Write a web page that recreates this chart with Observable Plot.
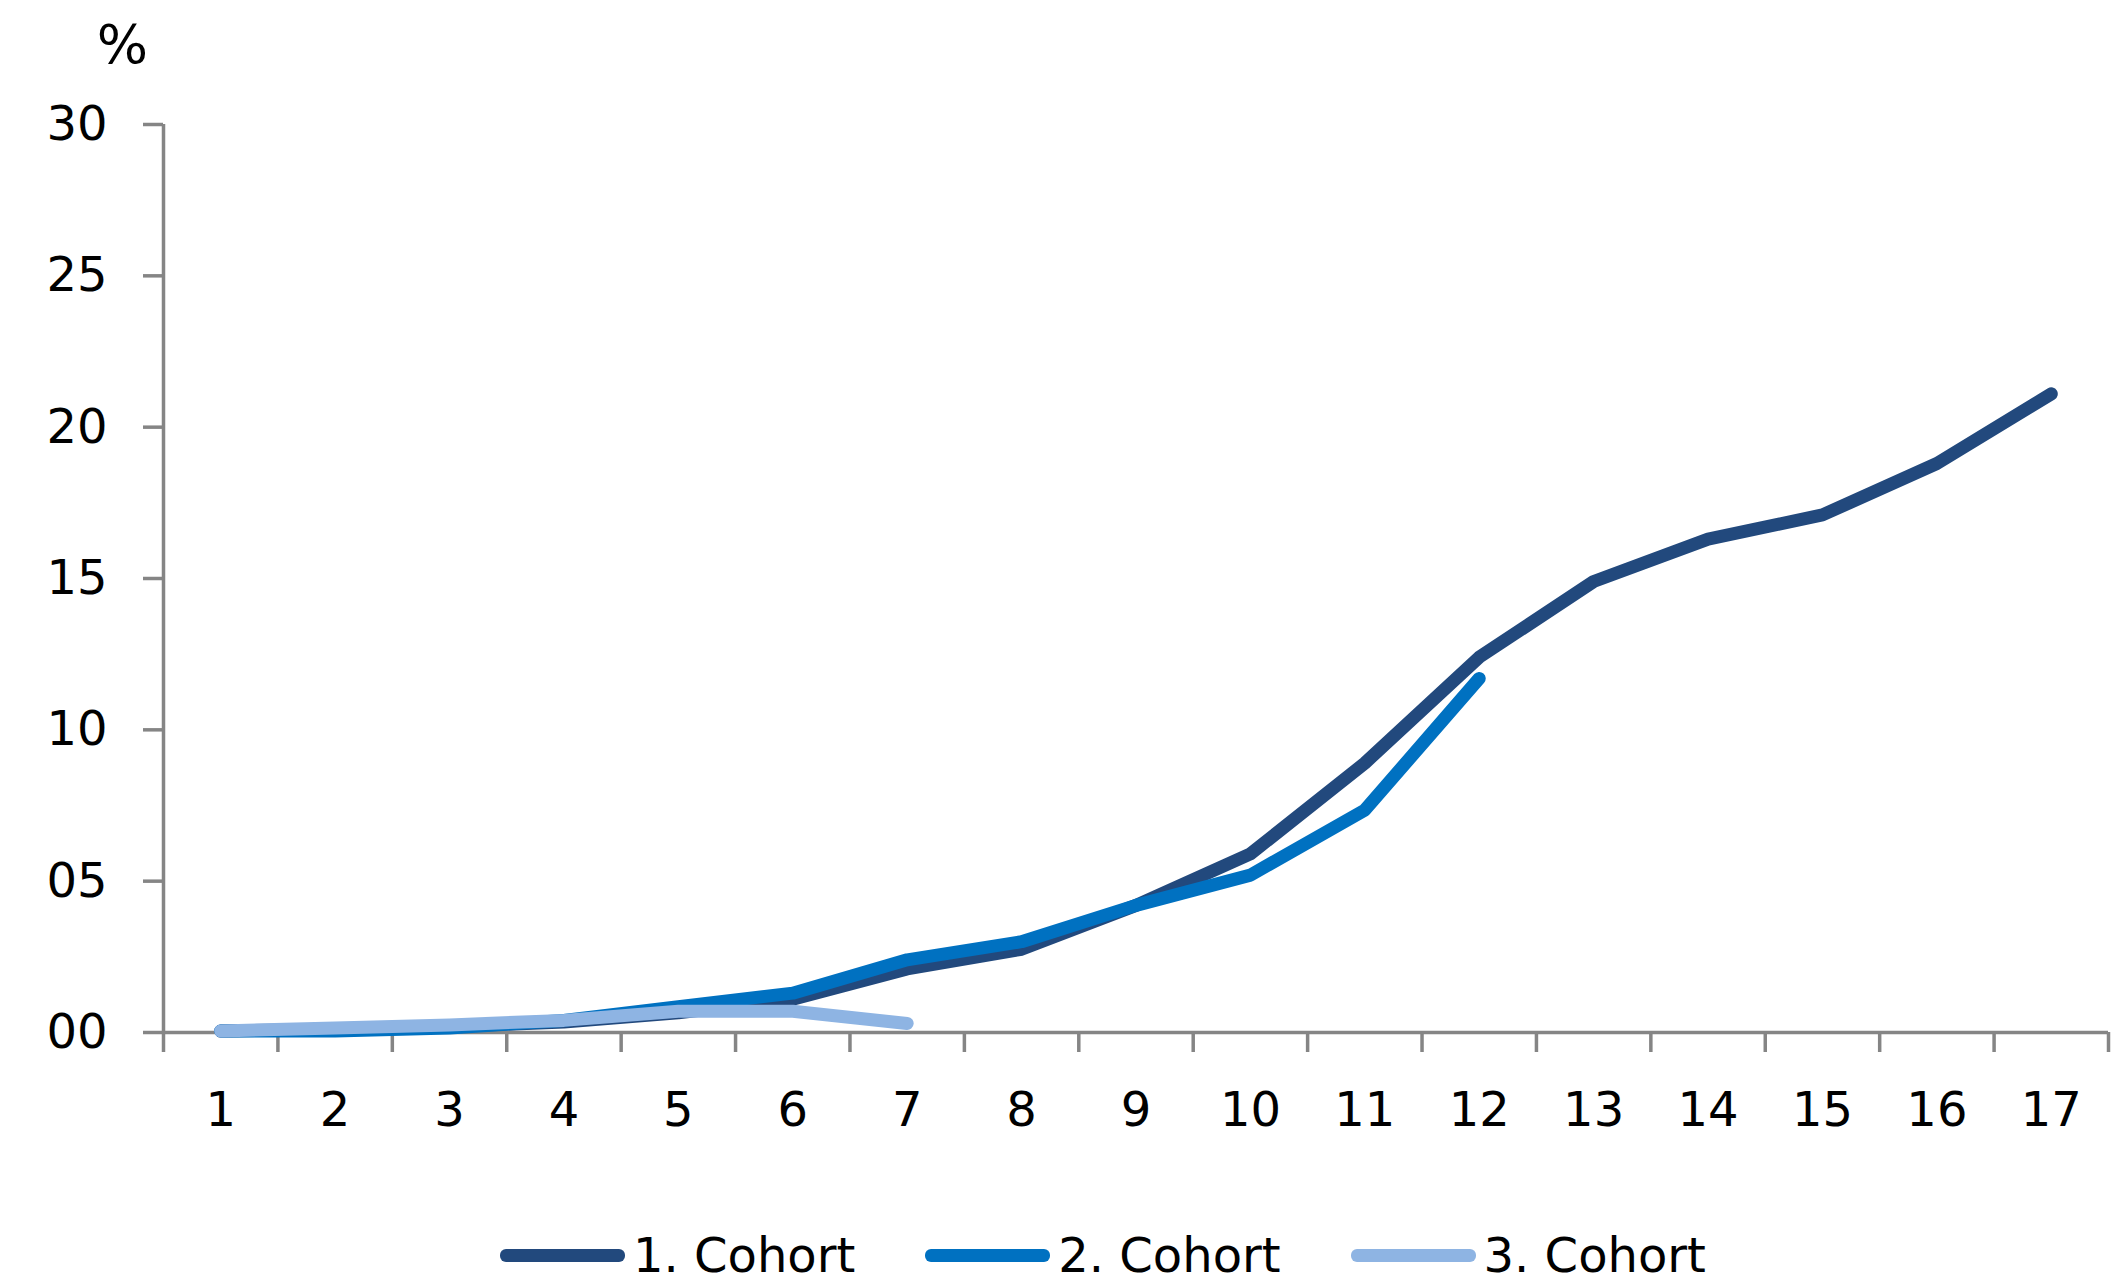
<!DOCTYPE html>
<html>
<head>
<meta charset="utf-8">
<script src="https://cdn.jsdelivr.net/npm/d3@7"></script>
<script src="https://cdn.jsdelivr.net/npm/@observablehq/plot@0.6"></script>
<style>
  html, body { margin: 0; padding: 0; background: #fff; }
  #wrap { position: relative; width: 2115px; height: 1283px; overflow: hidden; font-family: "DejaVu Sans", Verdana, sans-serif; }
  #legend { position: absolute; left: 500px; top: 1230px; height: 50px; display: flex; align-items: center; font-size: 48px; color: #000; white-space: nowrap; }
  .item { display: flex; align-items: center; }
  .sw { width: 125px; height: 13px; border-radius: 6px; margin-right: 8px; }
</style>
</head>
<body>
<div id="wrap"><div id="chart"></div><div id="legend"></div></div>
<script>
const periods = [1,2,3,4,5,6,7,8,9,10,11,12,13,14,15,16,17];
const seriesNames = ["1. Cohort", "2. Cohort", "3. Cohort"];
const seriesColors = ["#22497D", "#0071C1", "#8EB4E3"];
const cohort1 = [0.05, 0.1, 0.2, 0.35, 0.65, 1.1, 2.1, 2.75, 4.2, 5.9, 8.9, 12.4, 14.9, 16.3, 17.1, 18.8, 21.1];
const cohort2 = [0.05, 0.05, 0.15, 0.4, 0.85, 1.3, 2.4, 3.0, 4.2, 5.2, 7.35, 11.7];
const cohort3 = [0.05, 0.15, 0.25, 0.4, 0.7, 0.7, 0.3];
const yTicks = [0, 5, 10, 15, 20, 25, 30];
const unitLabel = "%";

const allSeries = [cohort1, cohort2, cohort3];
const data = [];
allSeries.forEach((vals, si) => vals.forEach((v, i) => data.push({period: periods[i], value: v, series: seriesNames[si]})));
const boundaries = d3.range(periods.length + 1).map(i => i + 0.5);

const axisColor = "#858585";
const plot = Plot.plot({
  width: 2115,
  height: 1200,
  marginTop: 124,
  marginBottom: 168,
  marginLeft: 163,
  marginRight: 7,
  style: {fontFamily: "DejaVu Sans, Verdana, sans-serif", fontSize: "48px", color: "#000", background: "#fff"},
  x: {domain: [0.5, periods.length + 0.5]},
  y: {domain: [0, 30]},
  color: {domain: seriesNames, range: seriesColors},
  marks: [
    Plot.axisY({ticks: yTicks, tickSize: 20, tickPadding: 36, tickFormat: d => String(d).padStart(2, "0"), stroke: axisColor, strokeWidth: 3.5, strokeOpacity: 1, label: null, fontSize: 48}),
    Plot.axisX({ticks: boundaries, tickSize: 20, tickFormat: () => "", stroke: axisColor, strokeWidth: 3.5, strokeOpacity: 1, label: null}),
    Plot.axisX({ticks: periods, tickSize: 0, tickPadding: 59, tickFormat: d => String(d), label: null, fontSize: 48}),
    Plot.ruleX([0.5], {y1: 0, y2: 30, stroke: axisColor, strokeWidth: 3.5}),
    Plot.ruleY([0], {x1: 0.5, x2: periods.length + 0.5, stroke: axisColor, strokeWidth: 3.5}),
    Plot.text([unitLabel], {frameAnchor: "top-left", dx: -41, dy: -79, fontSize: 54, fill: "#000", textAnchor: "middle", lineAnchor: "middle"}),
    Plot.line(data, {x: "period", y: "value", z: "series", stroke: "series", strokeWidth: 13, strokeLinecap: "round", strokeLinejoin: "round"})
  ]
});
document.getElementById("chart").appendChild(plot);

const legend = document.getElementById("legend");
seriesNames.forEach((name, i) => {
  const item = document.createElement("div");
  item.className = "item";
  if (i > 0) item.style.marginLeft = "70px";
  const sw = document.createElement("div");
  sw.className = "sw";
  sw.style.background = seriesColors[i];
  const t = document.createElement("span");
  t.textContent = name;
  item.appendChild(sw);
  item.appendChild(t);
  legend.appendChild(item);
});
</script>
</body>
</html>
